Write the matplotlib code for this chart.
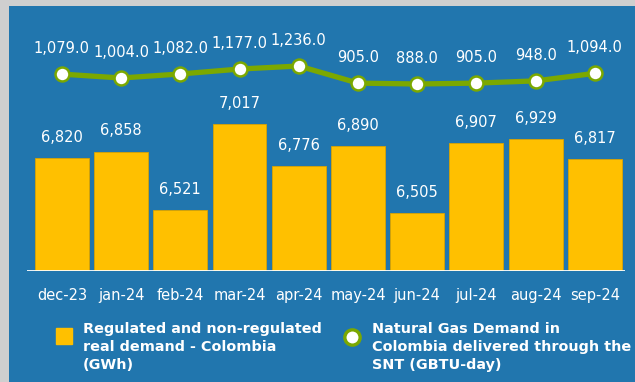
import matplotlib.pyplot as plt
import numpy as np
from matplotlib.patches import Rectangle

months = ["dec-23", "jan-24", "feb-24", "mar-24", "apr-24",
          "may-24", "jun-24", "jul-24", "aug-24", "sep-24"]
power_gwh = [6820, 6858, 6521, 7017, 6776, 6890, 6505, 6907, 6929, 6817]
gas_gbtud = [1079.0, 1004.0, 1082.0, 1177.0, 1236.0,
             905.0, 888.0, 905.0, 948.0, 1094.0]

BLUE = "#2176ae"
YELLOW = "#ffc000"
GREEN = "#7ba800"

W, H = 635, 382
fig = plt.figure(figsize=(W / 100, H / 100), dpi=100, facecolor="#cfcfcf")

# blue panel with a grey shadow on the left/top
bg = fig.add_axes([9 / W, 0, 1 - 9 / W, 1 - 6 / H])
bg.set_facecolor(BLUE)
bg.set_xticks([])
bg.set_yticks([])
for s in bg.spines.values():
    s.set_visible(False)

# main axes: 27..625 px horizontally, 6..271 px from the top
left, right, top, bottom = 27, 625, 6, 271
ax = fig.add_axes([left / W, 1 - bottom / H, (right - left) / W, (bottom - top) / H])
ax.set_facecolor("none")
x = np.arange(len(months))
ax.bar(x, power_gwh, width=0.91, color=YELLOW, edgecolor="#d9a300", linewidth=0.6, zorder=2)
ax.set_ylim(6172, 6172 + (bottom - top) / 0.174)
ax.set_xlim(-0.59, 9.51)
for xi, v in zip(x, power_gwh):
    ax.annotate(f"{v:,}", (xi, v), xytext=(0, 9.5), textcoords="offset points",
                ha="center", va="bottom", color="white", fontsize=10.5)
ax.set_xticks(x)
ax.set_xticklabels(months, color="white", fontsize=10.5)
ax.tick_params(axis="x", length=0, pad=12)
ax.set_yticks([])
for s in ax.spines.values():
    s.set_visible(False)
ax.axhline(6172, color="white", linewidth=2, zorder=3)

# gas demand line on a second scale
ax2 = ax.twinx()
ax2.set_ylim(1236 - (bottom - 66) / 0.0517, 1236 + (66 - top) / 0.0517)
ax2.plot(x, gas_gbtud, color=GREEN, linewidth=3.8, marker="o", markersize=10,
         markerfacecolor="white", markeredgecolor=GREEN, markeredgewidth=1.8, zorder=4)
for xi, v in zip(x, gas_gbtud):
    ax2.annotate(f"{v:,.1f}", (xi, v), xytext=(0, 13), textcoords="offset points",
                 ha="center", va="bottom", color="white", fontsize=10.5)
ax2.set_yticks([])
for s in ax2.spines.values():
    s.set_visible(False)

# legend
fig.patches.append(Rectangle((56 / W, 1 - 344 / H), 16 / W, 16 / H,
                             transform=fig.transFigure, color=YELLOW))
fig.text(83 / W, 1 - 322 / H, "Regulated and non-regulated\nreal demand - Colombia\n(GWh)",
         color="white", fontsize=10.4, fontweight="bold", va="top", ha="left",
         linespacing=1.35)
fig.lines.append(plt.Line2D([352 / W], [1 - 337 / H], transform=fig.transFigure,
                            marker="o", markersize=11, markerfacecolor="white",
                            markeredgecolor=GREEN, markeredgewidth=2.4, linestyle="none"))
fig.text(372 / W, 1 - 322 / H, "Natural Gas Demand in\nColombia delivered through the\nSNT (GBTU-day)",
         color="white", fontsize=10.4, fontweight="bold", va="top", ha="left",
         linespacing=1.35)

fig.savefig("out.png", dpi=100, facecolor=fig.get_facecolor())
